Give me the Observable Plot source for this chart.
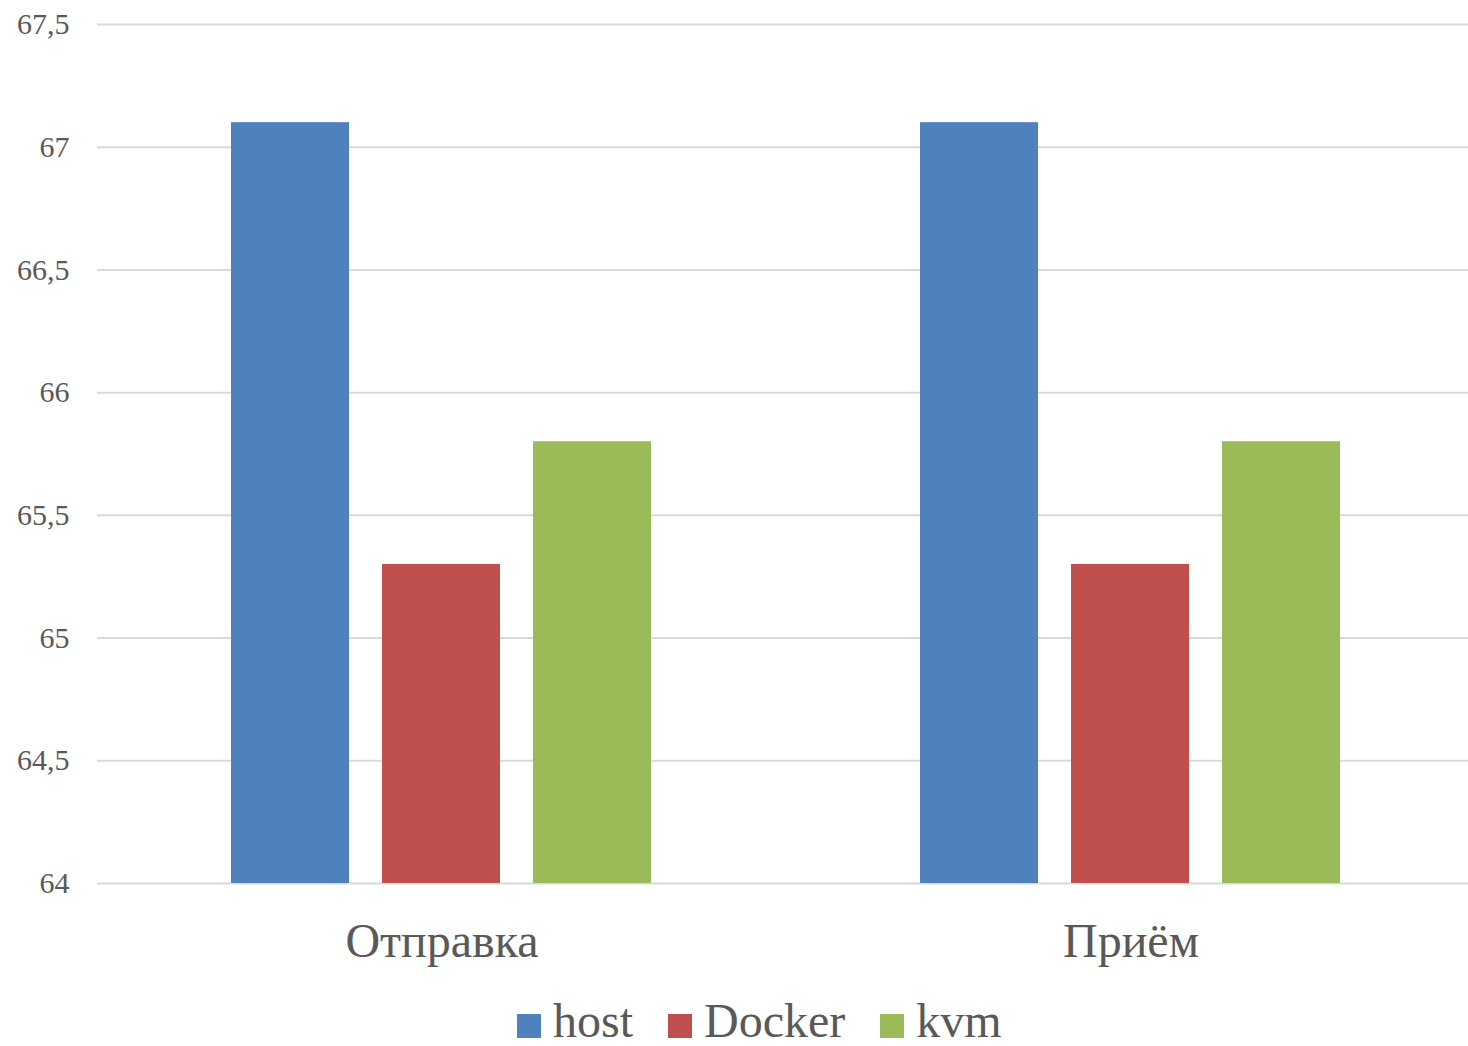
<!DOCTYPE html>
<html>
<head>
<meta charset="utf-8">
<script src="https://cdn.jsdelivr.net/npm/d3@7"></script>
<script src="https://cdn.jsdelivr.net/npm/@observablehq/plot@0.6"></script>
<style>
  html, body { margin: 0; padding: 0; background: #fff; }
  body { position: relative; width: 1468px; height: 1046px; overflow: hidden; font-family: "Liberation Serif", "Times New Roman", serif; }
  #chart { width: 1468px; overflow: hidden; }
  #chart svg { max-width: none !important; }
  #legend { position: absolute; top: 997px; left: 517px; display: flex; align-items: center; color: #595959; font-size: 48px; line-height: 48px; white-space: nowrap; }
  #legend .item { display: flex; align-items: center; margin-right: 35px; }
  #legend .sw { width: 24px; height: 24px; margin-right: 12px; margin-top: 10px; }
</style>
</head>
<body>
<div id="chart"></div>
<div id="legend"></div>
<script>
const categories = ["Отправка", "Приём"];
const seriesNames = ["host", "Docker", "kvm"];
const hostValues = [67.1, 67.1];
const dockerValues = [65.3, 65.3];
const kvmValues = [65.8, 65.8];
const seriesColors = ["#4F81BD", "#C0504D", "#9BBB59"];
const yDomain = [64, 67.5];
const yTicks = [64, 64.5, 65, 65.5, 66, 66.5, 67, 67.5];

const seriesValues = [hostValues, dockerValues, kvmValues];
const data = [];
categories.forEach((c, i) => {
  seriesNames.forEach((s, j) => {
    data.push({category: c, series: s, value: seriesValues[j][i]});
  });
});

const fmt = d => String(d).replace(".", ",");

const chart = Plot.plot({
  width: 1475,
  height: 1000,
  marginTop: 24,
  marginLeft: 96,
  marginRight: 0,
  marginBottom: 117,
  style: {fontFamily: "'Liberation Serif', 'Times New Roman', serif", color: "#595959", background: "#fff", maxWidth: "none"},
  fx: {domain: categories, padding: 0, label: null},
  x: {domain: seriesNames, paddingInner: 0.217, paddingOuter: 0.877, axis: null},
  y: {domain: yDomain, ticks: yTicks, label: null},
  color: {domain: seriesNames, range: seriesColors},
  marks: [
    Plot.ruleY(yTicks, {stroke: "#d9d9d9", strokeWidth: 2}),
    Plot.barY(data, {fx: "category", x: "series", y1: yDomain[0], y2: "value", fill: "series"}),
    Plot.axisY(yTicks, {tickSize: 0, tickPadding: 28, tickFormat: fmt, fontSize: 30, label: null, fill: "#595959"}),
    Plot.axisFx({anchor: "bottom", tickSize: 0, tickPadding: 39, fontSize: 48, label: null, fill: "#595959"})
  ]
});
document.getElementById("chart").appendChild(chart);

const legend = document.getElementById("legend");
seriesNames.forEach((s, i) => {
  const item = document.createElement("div");
  item.className = "item";
  const sw = document.createElement("div");
  sw.className = "sw";
  sw.style.background = seriesColors[i];
  const t = document.createElement("span");
  t.textContent = s;
  item.appendChild(sw);
  item.appendChild(t);
  legend.appendChild(item);
});
</script>
</body>
</html>
